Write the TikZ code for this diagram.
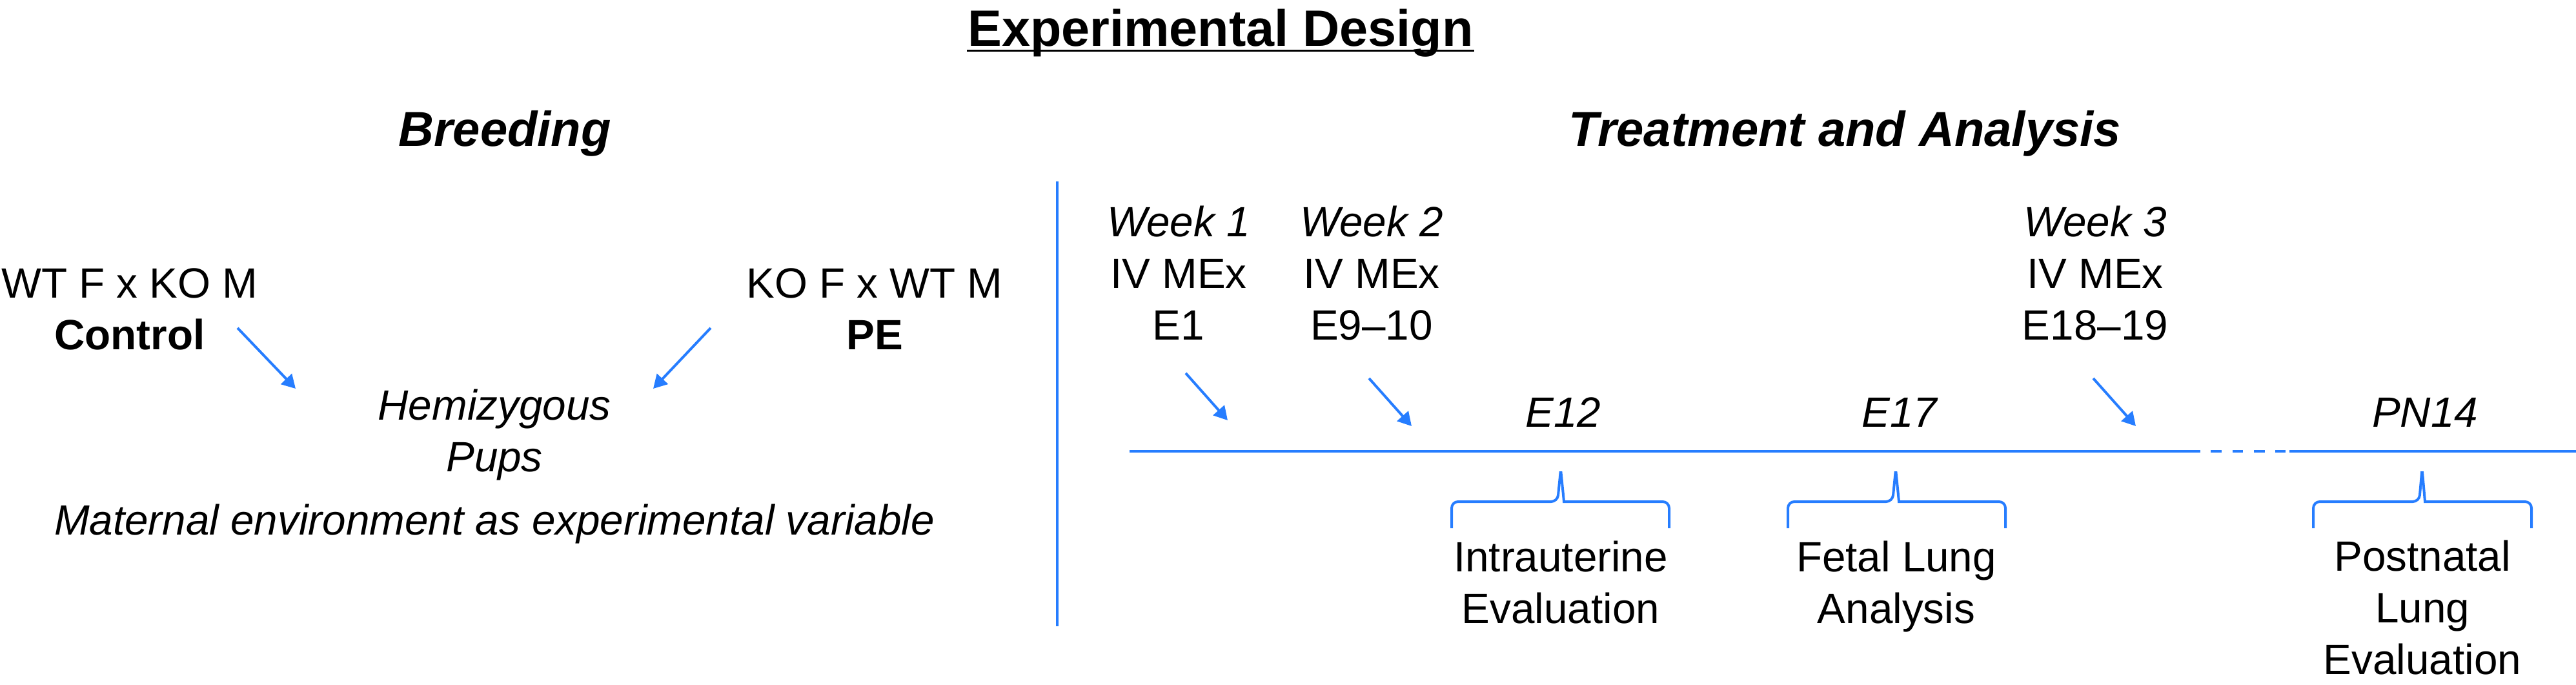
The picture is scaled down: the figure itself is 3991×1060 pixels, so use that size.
\documentclass[tikz,border=0pt]{standalone}
\usepackage{fontspec}
\setmainfont{Liberation Sans}
\usetikzlibrary{arrows.meta}
\definecolor{lineblue}{RGB}{38,125,255}
\begin{document}
\begin{tikzpicture}[x=0.25pt,y=-0.25pt,
  txt/.style={inner sep=0pt, anchor=base, align=center, font=\fontsize{16.4}{20}\selectfont},
  itxt/.style={txt, font=\fontsize{16.4}{20}\selectfont\itshape},
  headtxt/.style={inner sep=0pt, anchor=base, font=\fontsize{19}{23}\selectfont\bfseries\itshape},
  titletxt/.style={inner sep=0pt, anchor=base, font=\fontsize{19.8}{24}\selectfont\bfseries},
  arr/.style={draw=lineblue, line width=1pt, -{Triangle[length=5.25pt,width=5.75pt]}},
  tline/.style={draw=lineblue, line width=1.1pt},
  bracestyle/.style={draw=lineblue, line width=1pt},
]
\useasboundingbox (0,0) rectangle (3991,1060);

% title
\node[titletxt] (title) at (1891,71) {Experimental Design};
\draw[line width=0.8pt] ([yshift=-1.9pt]title.base west) -- ([yshift=-1.9pt]title.base east);

% headings
\node[headtxt] (breeding) at (782,226) {Breeding};
\node[headtxt] (treat) at (2858,226) {Treatment and Analysis};

% breeding (anchor = baseline of last line)
\node[txt] (ctrl) at (201,541) {WT F x KO M\\\textbf{Control}};
\node[txt] (pe) at (1355,541) {KO F x WT M\\\textbf{PE}};
\node[itxt] (pups) at (766,730) {Hemizygous\\Pups};
\node[itxt] (maternal) at (766,828) {Maternal environment as experimental variable};

\coordinate (a1s) at (368,508);
\coordinate (a1e) at (458,602);
\coordinate (a2s) at (1101,508);
\coordinate (a2e) at (1012,602);
\draw[arr] (a1s) -- (a1e);
\draw[arr] (a2s) -- (a2e);

% divider
\coordinate (dtop) at (1638,281);
\coordinate (dbot) at (1638,970);
\draw[draw=lineblue, line width=1pt] (dtop) -- (dbot);

% weeks
\node[txt] (w1) at (1826,526) {\textit{Week 1}\\IV MEx\\E1};
\node[txt] (w2) at (2125,526) {\textit{Week 2}\\IV MEx\\E9--10};
\node[txt] (w3) at (3246,526) {\textit{Week 3}\\IV MEx\\E18--19};

\coordinate (a3s) at (1837,578);
\coordinate (a3e) at (1902,651);
\coordinate (a4s) at (2121,586);
\coordinate (a4e) at (2187,660);
\coordinate (a5s) at (3243,586);
\coordinate (a5e) at (3309,660);
\draw[arr] (a3s) -- (a3e);
\draw[arr] (a4s) -- (a4e);
\draw[arr] (a5s) -- (a5e);

% time points
\node[itxt] (e12) at (2422,661) {E12};
\node[itxt] (e17) at (2943,661) {E17};
\node[itxt] (pn14) at (3757,661) {PN14};

% timeline
\coordinate (t0) at (1750,699);
\coordinate (t1) at (3392,699);
\coordinate (t2) at (3541,699);
\coordinate (t3) at (3547,699);
\coordinate (t4) at (3991,699);
\draw[tline] (t0) -- (t1);
\draw[tline, dash pattern=on 4.17pt off 4.17pt] (t1) -- (t2);
\draw[tline] (t3) -- (t4);

% braces
\draw[bracestyle, rounded corners=2.5pt] (2249,818) -- (2249,777) -- (2413,777) [sharp corners] -- (2417.5,732) -- (2418.5,732) -- (2423,777) [rounded corners=2.5pt] -- (2586,777) -- (2586,818);
\draw[bracestyle, rounded corners=2.5pt] (2770,818) -- (2770,777) -- (2932,777) [sharp corners] -- (2936.5,732) -- (2937.5,732) -- (2942,777) [rounded corners=2.5pt] -- (3107,777) -- (3107,818);
\draw[bracestyle, rounded corners=2.5pt] (3584,818) -- (3584,777) -- (3748,777) [sharp corners] -- (3752,732) -- (3753,732) -- (3757,777) [rounded corners=2.5pt] -- (3922,777) -- (3922,818);

% analyses
\node[txt] (intra) at (2418,965) {Intrauterine\\Evaluation};
\node[txt] (fetal) at (2938,965) {Fetal Lung\\Analysis};
\node[txt] (postnatal) at (3753,1044) {Postnatal\\Lung\\Evaluation};
\end{tikzpicture}
\end{document}
